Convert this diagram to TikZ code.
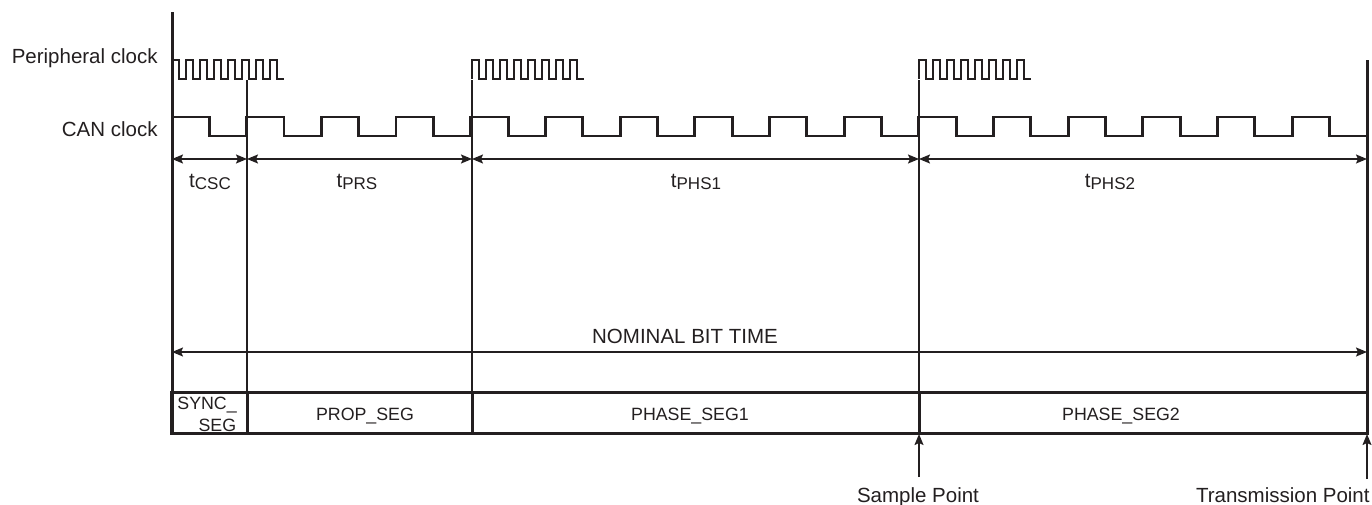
\documentclass[tikz,border=0pt]{standalone}
\usepackage{fontspec}
\setmainfont{Liberation Sans}
\usetikzlibrary{arrows.meta}
\definecolor{encre}{HTML}{231F20}
\newcommand{\tseg}[1]{t\raisebox{-1pt}{\fontsize{8.5}{9}\selectfont #1}}

\begin{document}
\begin{tikzpicture}[x=0.5pt, y=-0.5pt, >={Stealth[length=5.5pt,width=4.5pt,inset=1pt]},
		trait/.style={encre, line width=0.75pt},
		gras/.style={encre, line width=1.5pt},
		horloge/.style={encre, line width=1.45pt},
		etiq/.style={text=encre, inner sep=0pt, font=\fontsize{10.25}{12}\selectfont},
		petit/.style={text=encre, inner sep=0pt, font=\fontsize{8.9}{10}\selectfont}]

			\useasboundingbox (0,0) rectangle (1372,504);

			% Points clés
			\coordinate (A0) at (172,159);
			\coordinate (A1) at (247,159);
			\coordinate (A2) at (472,159);
			\coordinate (A3) at (919,159);
			\coordinate (A4) at (1367,159);
			\coordinate (N0) at (172,352);
			\coordinate (N1) at (1367,352);
			\coordinate (SP0) at (919,477);
			\coordinate (SP1) at (919,434);
			\coordinate (TP0) at (1367,479);
			\coordinate (TP1) at (1367,434);

			% Axes
			\draw[gras] (172,12) -- (172,433); % bord gauche
			\draw[gras] (1367,60) -- (1367,433); % bord droit
			\foreach \x in {247,472,919}
				\draw[trait] (\x,80) -- (\x,392);

			% Horloge périphérique (trois salves)
			\foreach \x in {172,472,919}
				\draw[horloge] (\x,79) -- (\x,60)
					\foreach \k in {1,...,7} { -- ++(7,0) -- ++(0,19) -- ++(7,0) -- ++(0,-19) }
					-- ++(7,0) -- ++(0,19) -- ++(7,0);

			% Horloge CAN (16 quanta)
			\draw[horloge] (172,117)
				\foreach \k in {1,...,15} { -- ++(37.34,0) -- ++(0,19) -- ++(37.34,0) -- ++(0,-19) }
				-- ++(37.34,0) -- ++(0,19) -- (1367,136);

			% Durées
			\draw[trait,<->] (A0) -- (A1);
			\draw[trait,<->] (A1) -- (A2);
			\draw[trait,<->] (A2) -- (A3);
			\draw[trait,<->] (A3) -- (A4);
			\draw[trait,<->] (N0) -- (N1);

			% Segments
			\draw[gras] (171,392) rectangle (1367,433);
			\foreach \x in {247,472,919}
				\draw[gras] (\x,392) -- (\x,433);

			% Points d'échantillonnage et d'émission
			\draw[trait,->] (SP0) -- (SP1);
			\draw[trait,->] (TP0) -- (TP1);

			% Étiquettes
			\node[etiq, anchor=base east] (periph) at (158,63.3) {Peripheral clock};
			\node[etiq, anchor=base east] (can) at (158,136.7) {CAN clock};
			\node[etiq, anchor=base] (tcsc) at (210,187.7) {\tseg{CSC}};
			\node[etiq, anchor=base] (tprs) at (357,187.7) {\tseg{PRS}};
			\node[etiq, anchor=base] (tphs1) at (696,187.7) {\tseg{PHS1}};
			\node[etiq, anchor=base] (tphs2) at (1110,187.7) {\tseg{PHS2}};
			\node[etiq, anchor=base] (nbt) at (685,343.3) {NOMINAL BIT TIME};
			\node[petit, anchor=base west] (sync) at (177,409.3) {SYNC\_};
			\node[petit, anchor=base east] (syncb) at (236.5,431.7) {SEG};
			\node[petit, anchor=base] (prop) at (365,420.3) {PROP\_SEG};
			\node[petit, anchor=base] (ph1) at (690,420.3) {PHASE\_SEG1};
			\node[petit, anchor=base] (ph2) at (1121,420.3) {PHASE\_SEG2};
			\node[etiq, anchor=base] (sample) at (918,502) {Sample Point};
			\node[etiq, anchor=base east] (trans) at (1370,502) {Transmission Point};

		\end{tikzpicture}
\end{document}
